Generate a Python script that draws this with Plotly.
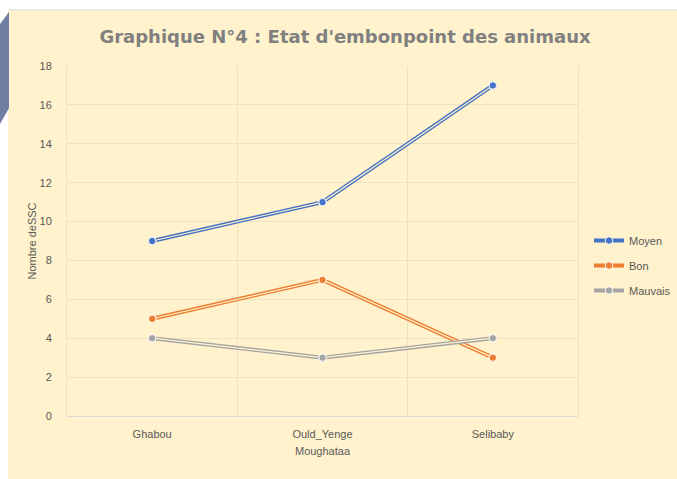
import plotly.graph_objects as go

categories = ["Ghabou", "Ould_Yenge", "Selibaby"]
moyen = [9, 11, 17]
bon = [5, 7, 3]
mauvais = [4, 3, 4]
series_names = ["Moyen", "Bon", "Mauvais"]
series_values = [moyen, bon, mauvais]
series_colors = ["#4472C4", "#ED7D31", "#A5A5A5"]
y_ticks = [0, 2, 4, 6, 8, 10, 12, 14, 16, 18]

BG = "#FFF2CC"
GRID = "#EDE3C3"
W, H = 677, 479
ML, MR, MT, MB = 67, 99, 66, 63
PW, PH = W - ML - MR, H - MT - MB

def px(x):
    return (x - ML) / PW

def py(y):
    return (H - MB - y) / PH

fig = go.Figure()
for name, vals, col in zip(series_names, series_values, series_colors):
    fig.add_trace(go.Scatter(
        x=categories, y=vals, name=name, mode="lines+markers",
        line=dict(color=col, width=4),
        marker=dict(size=7.5, color=col, line=dict(color="#FFFFFF", width=1)),
        legendgroup=name,
    ))
    fig.add_trace(go.Scatter(
        x=categories, y=vals, mode="lines", showlegend=False, hoverinfo="skip",
        line=dict(color=BG, width=1.2), legendgroup=name,
    ))
    fig.add_trace(go.Scatter(
        x=categories, y=vals, mode="markers", showlegend=False, hoverinfo="skip",
        marker=dict(size=7.5, color=col, line=dict(color="#FFFFFF", width=1)),
        legendgroup=name,
    ))

tickfont = dict(family="Liberation Sans Narrow, Arial Narrow, Arial", size=11, color="#595959")

fig.update_layout(
    width=W, height=H,
    margin=dict(l=ML, r=MR, t=MT, b=MB, autoexpand=False),
    paper_bgcolor=BG, plot_bgcolor="rgba(0,0,0,0)",
    title=dict(
        text="Graphique N°4 : Etat d'embonpoint des animaux",
        x=(345) / W, xanchor="center", y=1 - 37 / H, yanchor="middle",
        font=dict(family="DejaVu Sans", size=18, color="#808080", weight="bold"),
    ),
    xaxis=dict(
        type="category", range=[-0.5, 2.5], tickson="boundaries", showgrid=True,
        gridcolor=GRID, gridwidth=1, ticks="", tickfont=tickfont, showline=False,
        zeroline=False, ticklabelstandoff=10,
        title=dict(text="Moughataa", font=tickfont, standoff=8),
    ),
    yaxis=dict(
        range=[0, 18], tickvals=y_ticks, showgrid=True, gridcolor=GRID,
        gridwidth=1, zeroline=True, zerolinecolor="#D9D9D9", zerolinewidth=1,
        showline=True, mirror=True, linecolor=GRID, linewidth=1,
        tickfont=tickfont, ticklabelstandoff=12,
        title=dict(text="Nombre deSSC", font=tickfont, standoff=0),
    ),
    legend=dict(
        x=px(589), xanchor="left", y=py(226), yanchor="top",
        font=dict(family="Liberation Sans Narrow, Arial Narrow, Arial", size=11, color="#595959"),
        bgcolor="rgba(0,0,0,0)", itemwidth=30, tracegroupgap=6,
    ),
    showlegend=True,
)

shapes = [
    dict(type="rect", xref="paper", yref="paper", x0=px(0), x1=px(W), y0=py(10), y1=py(0),
         fillcolor="#FFFFFF", line=dict(width=0), layer="below"),
    dict(type="rect", xref="paper", yref="paper", x0=px(0), x1=px(8), y0=py(H), y1=py(0),
         fillcolor="#FFFFFF", line=dict(width=0), layer="below"),
    dict(type="line", xref="paper", yref="paper", x0=px(8), x1=px(W), y0=py(10), y1=py(10),
         line=dict(color="#E6E6E6", width=1.5), layer="below"),
    dict(type="path", xref="paper", yref="paper",
         path=f"M {px(0)},{py(24)} L {px(9)},{py(12)} L {px(9)},{py(108)} L {px(0)},{py(124)} Z",
         fillcolor="#6E7FA3", line=dict(width=0), layer="below"),
]
fig.update_layout(shapes=shapes)

fig.write_html(
    "out.html",
    config={"displayModeBar": False},
    post_script="document.body.style.margin='0';document.body.style.overflow='hidden';",
)
